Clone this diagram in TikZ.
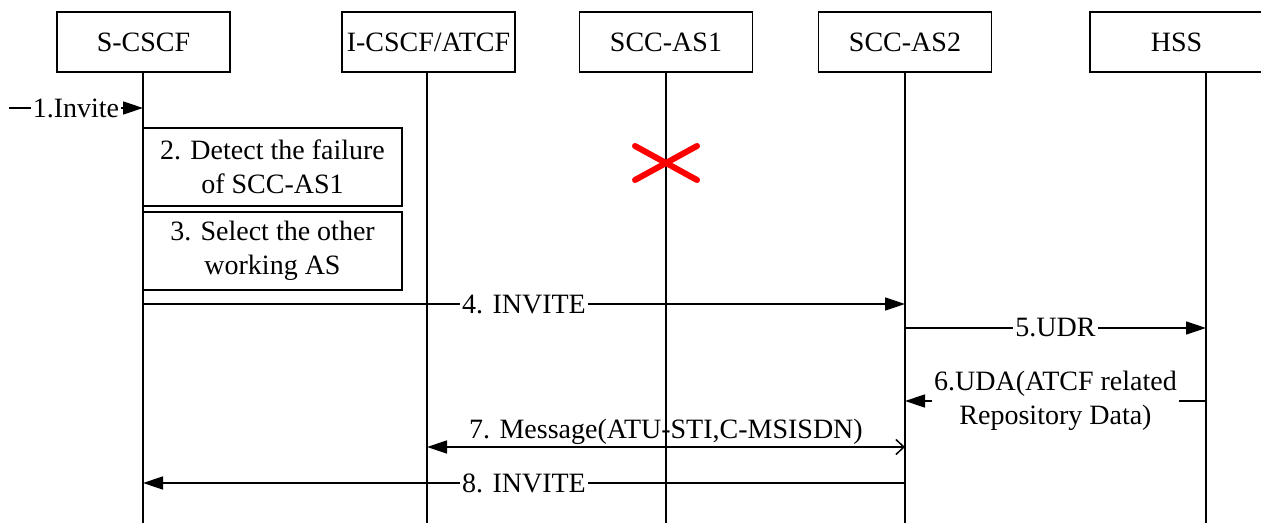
\documentclass[tikz,border=0pt]{standalone}
\usepackage{fontspec}
\setmainfont{Liberation Serif}
\usetikzlibrary{arrows.meta}
\usetikzlibrary{positioning}

\begin{document}
\begin{tikzpicture}[
  x=0.5pt, y=-0.5pt,
  font=\fontsize{14}{17}\selectfont,
  line width=0.75pt,
  > = {Triangle[length=10pt,width=6.5pt]},
  entity/.style = {draw,minimum width=86.5pt,minimum height=30pt,inner sep=0pt},
  action/.style = {draw,fill=white,align=center,minimum width=129.5pt,minimum height=39pt,inner sep=0pt},
  tag/.style = {fill=white,inner sep=1pt},
  cross/.style = {draw=red,line width=3pt,line cap=round}
  ]
	\useasboundingbox (0,0) rectangle (1261,523);

	% entities
	\node[entity] (scscf) at (143.5,42) {S-CSCF};
	\node[entity] (icscf) at (428.5,42) {I-CSCF/ATCF};
	\node[entity] (as1) at (666,42) {SCC-AS1};
	\node[entity] (as2) at (905,42) {SCC-AS2};
	\node[entity] (hss) at (1176.5,42) {HSS};

	\coordinate (@s) at (143,72);
	\coordinate (@i) at (427,72);
	\coordinate (@a1) at (666,72);
	\coordinate (@a2) at (905,72);
	\coordinate (@h) at (1206,72);
	\coordinate (@end) at (0,523);

	\foreach \l in {@s,@i,@a1,@a2,@h}
		\draw (\l) -- (\l |- @end);

	% rows
	\coordinate (@r1) at (0,108);
	\coordinate (@r4) at (0,304);
	\coordinate (@r5) at (0,328);
	\coordinate (@r6) at (0,401);
	\coordinate (@r7) at (0,447);
	\coordinate (@r8) at (0,483);
	\coordinate (@in) at (9,108);

	\draw[->] (@in) -- node[tag] {1.Invite} (@s |- @r1);

	\node[action] (detect) at (272.5,167) {2. Detect the failure\\of SCC-AS1};
	\node[action] (select) at (272.5,251) {3. Select the other\\working AS};

	\coordinate (@fail) at (666,163);
	\draw[cross] (@fail) ++(-31,-17) -- ++(62,34) (@fail) ++(-31,17) -- ++(62,-34);

	\draw[->] (@s |- @r4) -- node[tag] {4. INVITE} (@a2 |- @r4);
	\draw[->] (@a2 |- @r5) -- node[tag] {5.UDR} (@h |- @r5);
	\draw[->] (@h |- @r6) -- node[tag,align=center] {6.UDA(ATCF related\\Repository Data)} (@a2 |- @r6);
	\draw[{Triangle[length=10pt,width=6.5pt]}-{Straight Barb[length=4pt,width=7.5pt]}] (@i |- @r7) -- node[above,inner sep=1pt] {7. Message(ATU-STI,C-MSISDN)} (@a2 |- @r7);
	\draw[->] (@a2 |- @r8) -- node[tag] {8. INVITE} (@s |- @r8);

\end{tikzpicture}
\end{document}
